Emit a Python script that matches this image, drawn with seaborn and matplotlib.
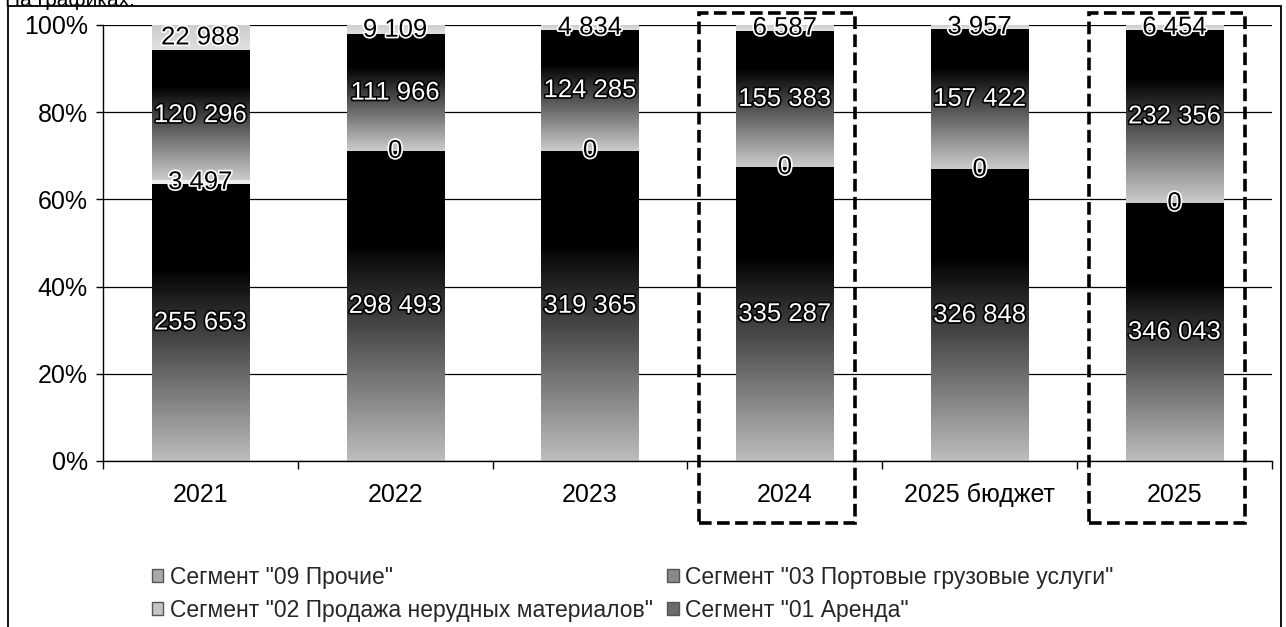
import numpy as np
import pandas as pd
import matplotlib
matplotlib.use("Agg")
import matplotlib.pyplot as plt
import seaborn as sns
from matplotlib.patches import Rectangle, Patch
from matplotlib.ticker import PercentFormatter, FixedLocator
from matplotlib.transforms import blended_transform_factory
import matplotlib.patheffects as pe

# ---------------- data ----------------
years = ["2021", "2022", "2023", "2024", "2025 бюджет", "2025"]
seg01_arenda = [255653, 298493, 319365, 335287, 326848, 346043]
seg02_prodazha = [3497, 0, 0, 0, 0, 0]
seg03_port = [120296, 111966, 124285, 155383, 157422, 232356]
seg09_prochie = [22988, 9109, 4834, 6587, 3957, 6454]
segment_names = [
    'Сегмент "01 Аренда"',
    'Сегмент "02 Продажа нерудных материалов"',
    'Сегмент "03 Портовые грузовые услуги"',
    'Сегмент "09 Прочие"',
]
highlight_years = ["2024", "2025"]
y_ticks = [0, 20, 40, 60, 80, 100]

# ---------------- styling ----------------
sns.set_theme(style="white")
plt.rcParams['font.family'] = ['Liberation Sans', 'DejaVu Sans']

W, H = 1286, 627
fig = plt.figure(figsize=(W / 100, H / 100), dpi=100)
fig.patch.set_facecolor("white")
ax = fig.add_axes([103 / W, 1 - 461 / H, (1272 - 103) / W, (461 - 25) / H])

segments = [seg01_arenda, seg02_prodazha, seg03_port, seg09_prochie]
vals = np.array(segments, dtype=float)
totals = vals.sum(axis=0)
pct = vals / totals * 100
cum = np.cumsum(pct, axis=0)

df = pd.DataFrame({"year": years})
for k in range(4):
    df[f"cum{k}"] = cum[k]

# draw cumulative layers, top layer first so lower layers overlay it
for k in reversed(range(4)):
    sns.barplot(data=df, x="year", y=f"cum{k}", order=years, color="#888888",
                width=0.5, saturation=1, edgecolor="none", ax=ax, zorder=2)

containers = list(ax.containers)  # [layer3, layer2, layer1, layer0]
layer_cont = {k: containers[3 - k] for k in range(4)}

# gradient styles per segment: (value at bottom, value at top-of-ramp, ramp fraction)
grad_style = {
    0: (0.74, 0.0, 0.70),
    1: (0.93, 0.93, 1.0),
    2: (0.80, 0.0, 0.72),
    3: (0.88, 0.80, 1.0),
}
t = np.linspace(0, 1, 256)[:, None]

for k in range(4):
    a, b, f = grad_style[k]
    g = a + (b - a) * np.clip(t / f, 0, 1)
    for i, patch in enumerate(layer_cont[k].patches):
        x0 = patch.get_x()
        w = patch.get_width()
        top = patch.get_height()
        bot = layer_cont[k - 1].patches[i].get_height() if k > 0 else 0.0
        patch.set_facecolor("none")
        if top - bot <= 0:
            continue
        ax.imshow(g, extent=(x0, x0 + w, bot, top), origin="lower", aspect="auto",
                  cmap="gray", vmin=0, vmax=1, interpolation="bilinear", zorder=2.5)

ax.set_xlim(-0.5, len(years) - 0.5)
ax.set_ylim(0, 100)

# value labels
white_out = [pe.withStroke(linewidth=2.4, foreground="black")]
black_out = [pe.withStroke(linewidth=2.4, foreground="white")]
for k in range(4):
    for i, patch in enumerate(layer_cont[k].patches):
        top = patch.get_height()
        bot = layer_cont[k - 1].patches[i].get_height() if k > 0 else 0.0
        yc = (top + bot) / 2
        xc = patch.get_x() + patch.get_width() / 2
        txt = f"{int(vals[k, i]):,}".replace(",", " ")
        if k in (0, 2):
            ax.text(xc, yc, txt, ha="center", va="center", fontsize=18.5,
                    color="white", path_effects=white_out, zorder=6)
        else:
            ax.text(xc, yc, txt, ha="center", va="center", fontsize=18.5,
                    color="black", path_effects=black_out, zorder=6)

# axes styling
ax.set_axisbelow(True)
ax.yaxis.set_major_locator(FixedLocator(y_ticks))
ax.yaxis.set_major_formatter(PercentFormatter(decimals=0))
ax.yaxis.grid(True, color="black", lw=0.9)
ax.xaxis.grid(False)
ax.set_xlabel("")
ax.set_ylabel("")
for s in ["top", "right"]:
    ax.spines[s].set_visible(False)
for s in ["left", "bottom"]:
    ax.spines[s].set_color("black")
    ax.spines[s].set_linewidth(1.0)
ax.tick_params(axis="y", left=True, length=5, width=1, color="black",
               labelsize=18, labelcolor="black", pad=6)
ax.tick_params(axis="x", bottom=False, labelsize=18, labelcolor="black", pad=10)
ax.set_xticks(np.arange(-0.5, len(years), 1.0), minor=True)
ax.tick_params(axis="x", which="minor", bottom=True, length=6, width=1, color="black")

# dashed highlight boxes
trans = blended_transform_factory(ax.transData, ax.transAxes)
for yname in highlight_years:
    i = years.index(yname)
    ax.add_patch(Rectangle((i - 0.44, -0.142), 0.80, 1.17, transform=trans,
                           fill=False, ls=(0, (3.5, 1.5)), lw=2.6,
                           edgecolor="black", clip_on=False, zorder=7))

# legend
leg_colors = {0: "#6a6a6a", 1: "#c4c4c4", 2: "#8a8a8a", 3: "#a8a8a8"}
handles = [Patch(facecolor=leg_colors[k], edgecolor="#555555", label=segment_names[k])
           for k in (3, 1, 2, 0)]
fig.legend(handles=handles, ncol=2, loc="upper left",
           bbox_to_anchor=(152 / W, 1 - 566 / H), frameon=False, fontsize=16.5,
           handlelength=0.5, handleheight=0.5, handletextpad=0.3,
           columnspacing=0.6, labelspacing=0.42, borderpad=0, borderaxespad=0)

# partial header text and outer frame
fig.text(0.004, 1.0, "На графиках:", ha="left", va="center", fontsize=15, color="black")
fig.add_artist(Rectangle((8 / W, -0.05), (1281 - 8) / W, 1.05 - 6 / H,
                         transform=fig.transFigure, fill=False, lw=1.3,
                         edgecolor="black"))

fig.savefig("out.png", dpi=100)
